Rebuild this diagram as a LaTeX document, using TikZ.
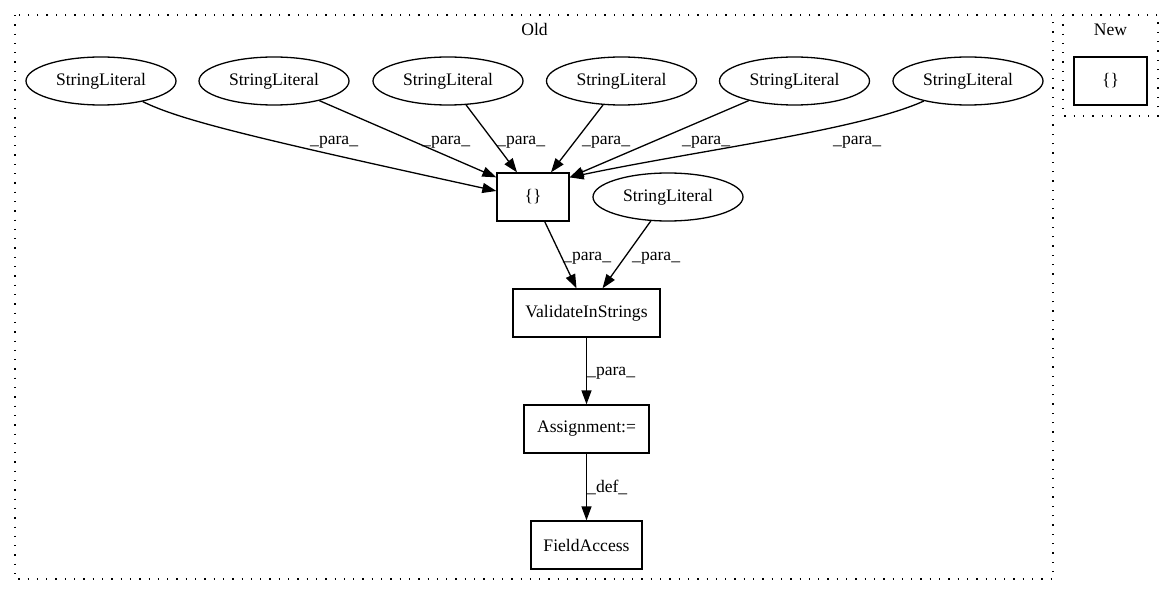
\documentclass[tikz,border=0pt]{standalone}
\usepackage{fontspec}
\setmainfont{Liberation Serif}
\usetikzlibrary{calc,arrows.meta,shapes.geometric}
\tikzset{
  lit/.style={ellipse,draw,line width=1.3pt,minimum width=150pt,minimum height=48pt,inner sep=0pt},
  box/.style={rectangle,draw,line width=1.3pt,minimum height=48pt,inner sep=0pt},
  lab/.style={anchor=base west,inner sep=0pt},
  flow/.style={line width=1.3pt,-{Triangle[length=14pt,width=10pt]}},
  cluster/.style={line width=1.3pt,dash pattern=on 1.3pt off 8pt},
}

\begin{document}
\begin{tikzpicture}[x=1pt,y=-1pt,font=\fontsize{17.6}{21}\selectfont]
\useasboundingbox (0,0) rectangle (1173,596);
%clusters
\draw[cluster] (15,15) rectangle (1053,579);
\node[anchor=base] (old) at (534.5,36) {Old};
\draw[cluster] (1063,15) rectangle (1158,116);
\node[anchor=base] (new) at (1110.5,36) {New};
\node[box,minimum width=73pt] (nbr) at (1110.5,81) {\{\}};
%string literals
\foreach \i/\x in {1/101,2/274,3/448,4/621.5,5/794.5,6/968}
\node[lit] (s\i) at (\x,81) {StringLiteral};
\node[lit] (s7) at (668,197) {StringLiteral};
%boxes
\node[box,minimum width=72pt] (br) at (533,197) {\{\}};
\node[box,minimum width=147pt] (vis) at (586.5,313) {ValidateInStrings};
\node[box,minimum width=125pt] (asg) at (586.5,429) {Assignment:=};
\node[box,minimum width=111pt] (fa) at (586.5,545) {FieldAccess};
%edges
\draw[flow] (s1) .. controls (180,120) and (250,137) .. ($(br.west)+(0,-6)$);
\draw[flow] (s2) -- ($(br.north west)+(0,5)$);
\draw[flow] (s3) -- ($(br.north)+(-16,0)$);
\draw[flow] (s4) -- ($(br.north)+(18,0)$);
\draw[flow] (s5) -- ($(br.north east)+(0,5)$);
\draw[flow] (s6) .. controls (860,130) and (700,150) .. ($(br.north east)+(0,5)$);
\draw[flow] (br) -- ($(vis.north)+(-10,0)$);
\draw[flow] (s7) -- ($(vis.north)+(16,0)$);
\draw[flow] (vis) -- (asg);
\draw[flow] (asg) -- (fa);
%edge labels
\foreach \i/\x in {1/310,2/422,3/497,4/582,5/682,6/833}
\node[lab] (l\i) at (\x,145) {\_para\_};
\node[lab] (l7) at (563,261) {\_para\_};
\node[lab] (l8) at (632,261) {\_para\_};
\node[lab] (l9) at (587,375) {\_para\_};
\node[lab] (l10) at (587,492) {\_def\_};
\end{tikzpicture}
\end{document}
